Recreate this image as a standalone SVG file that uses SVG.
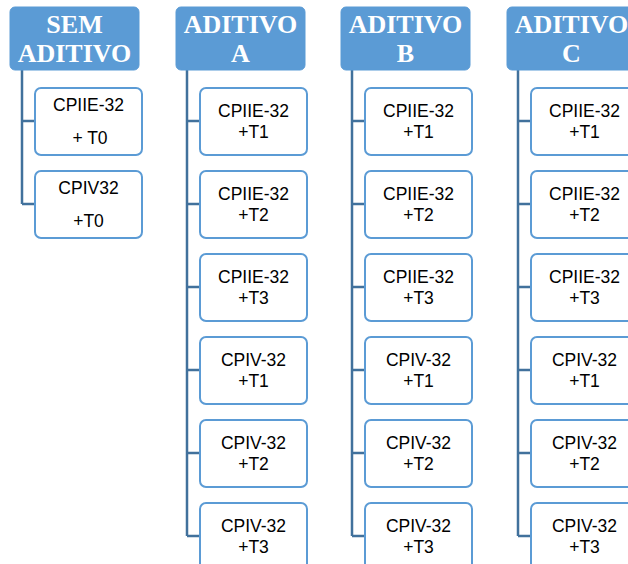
<svg xmlns="http://www.w3.org/2000/svg" width="628" height="564" viewBox="0 0 628 564">
<style>
.hdr{fill:#5B9BD5;stroke:#5B9BD5;stroke-width:1}
.ht{font-family:"Liberation Serif",serif;font-weight:bold;font-size:26px;fill:#fff;text-anchor:middle}
.box{fill:#fff;stroke:#5B9BD5;stroke-width:2}
.bt{font-family:"Liberation Sans",Arial,sans-serif;font-size:17.5px;fill:#000;text-anchor:middle}
.ln{fill:none;stroke:#41719C;stroke-width:2.5}
</style>
<rect width="628" height="564" fill="#fff"/>
<g id="connectors">
<path class="ln" d="M22,70V204M22,121H35M22,204H35"/>
<path class="ln" d="M187,70V536M187,121H200M187,204H200M187,287H200M187,370H200M187,453H200M187,536H200"/>
<path class="ln" d="M352,70V536M352,121H365M352,204H365M352,287H365M352,370H365M352,453H365M352,536H365"/>
<path class="ln" d="M518,70V536M518,121H531M518,204H531M518,287H531M518,370H531M518,453H531M518,536H531"/>
</g>
<g id="h-sem"><rect class="hdr" x="10" y="7" width="129" height="63" rx="5"/><text class="ht" x="74.5" y="33">SEM</text><text class="ht" x="74.5" y="62">ADITIVO</text></g>
<g id="h-a"><rect class="hdr" x="176" y="7" width="129" height="63" rx="5"/><text class="ht" x="240.5" y="33">ADITIVO</text><text class="ht" x="240.5" y="62">A</text></g>
<g id="h-b"><rect class="hdr" x="341" y="7" width="129" height="63" rx="5"/><text class="ht" x="405.5" y="33">ADITIVO</text><text class="ht" x="405.5" y="62">B</text></g>
<g id="h-c"><rect class="hdr" x="507" y="7" width="129" height="63" rx="5"/><text class="ht" x="571.5" y="33">ADITIVO</text><text class="ht" x="571.5" y="62">C</text></g>

<g id="s1"><rect class="box" x="35" y="88" width="107" height="67" rx="6"/><text class="bt" x="88.5" y="111">CPIIE-32</text><text class="bt" x="90" y="144">+ T0</text></g>
<g id="s2"><rect class="box" x="35" y="171" width="107" height="67" rx="6"/><text class="bt" x="88.5" y="194">CPIV32</text><text class="bt" x="88.5" y="227">+T0</text></g>

<g id="a1"><rect class="box" x="200" y="88" width="107" height="67" rx="6"/><text class="bt" x="253.5" y="117">CPIIE-32</text><text class="bt" x="253.5" y="138">+T1</text></g>
<g id="a2"><rect class="box" x="200" y="171" width="107" height="67" rx="6"/><text class="bt" x="253.5" y="200">CPIIE-32</text><text class="bt" x="253.5" y="221">+T2</text></g>
<g id="a3"><rect class="box" x="200" y="254" width="107" height="67" rx="6"/><text class="bt" x="253.5" y="283">CPIIE-32</text><text class="bt" x="253.5" y="304">+T3</text></g>
<g id="a4"><rect class="box" x="200" y="337" width="107" height="67" rx="6"/><text class="bt" x="253.5" y="366">CPIV-32</text><text class="bt" x="253.5" y="387">+T1</text></g>
<g id="a5"><rect class="box" x="200" y="420" width="107" height="67" rx="6"/><text class="bt" x="253.5" y="449">CPIV-32</text><text class="bt" x="253.5" y="470">+T2</text></g>
<g id="a6"><rect class="box" x="200" y="503" width="107" height="67" rx="6"/><text class="bt" x="253.5" y="532">CPIV-32</text><text class="bt" x="253.5" y="553">+T3</text></g>

<g id="b1"><rect class="box" x="365" y="88" width="107" height="67" rx="6"/><text class="bt" x="418.5" y="117">CPIIE-32</text><text class="bt" x="418.5" y="138">+T1</text></g>
<g id="b2"><rect class="box" x="365" y="171" width="107" height="67" rx="6"/><text class="bt" x="418.5" y="200">CPIIE-32</text><text class="bt" x="418.5" y="221">+T2</text></g>
<g id="b3"><rect class="box" x="365" y="254" width="107" height="67" rx="6"/><text class="bt" x="418.5" y="283">CPIIE-32</text><text class="bt" x="418.5" y="304">+T3</text></g>
<g id="b4"><rect class="box" x="365" y="337" width="107" height="67" rx="6"/><text class="bt" x="418.5" y="366">CPIV-32</text><text class="bt" x="418.5" y="387">+T1</text></g>
<g id="b5"><rect class="box" x="365" y="420" width="107" height="67" rx="6"/><text class="bt" x="418.5" y="449">CPIV-32</text><text class="bt" x="418.5" y="470">+T2</text></g>
<g id="b6"><rect class="box" x="365" y="503" width="107" height="67" rx="6"/><text class="bt" x="418.5" y="532">CPIV-32</text><text class="bt" x="418.5" y="553">+T3</text></g>

<g id="c1"><rect class="box" x="531" y="88" width="107" height="67" rx="6"/><text class="bt" x="584.5" y="117">CPIIE-32</text><text class="bt" x="584.5" y="138">+T1</text></g>
<g id="c2"><rect class="box" x="531" y="171" width="107" height="67" rx="6"/><text class="bt" x="584.5" y="200">CPIIE-32</text><text class="bt" x="584.5" y="221">+T2</text></g>
<g id="c3"><rect class="box" x="531" y="254" width="107" height="67" rx="6"/><text class="bt" x="584.5" y="283">CPIIE-32</text><text class="bt" x="584.5" y="304">+T3</text></g>
<g id="c4"><rect class="box" x="531" y="337" width="107" height="67" rx="6"/><text class="bt" x="584.5" y="366">CPIV-32</text><text class="bt" x="584.5" y="387">+T1</text></g>
<g id="c5"><rect class="box" x="531" y="420" width="107" height="67" rx="6"/><text class="bt" x="584.5" y="449">CPIV-32</text><text class="bt" x="584.5" y="470">+T2</text></g>
<g id="c6"><rect class="box" x="531" y="503" width="107" height="67" rx="6"/><text class="bt" x="584.5" y="532">CPIV-32</text><text class="bt" x="584.5" y="553">+T3</text></g>
</svg>
